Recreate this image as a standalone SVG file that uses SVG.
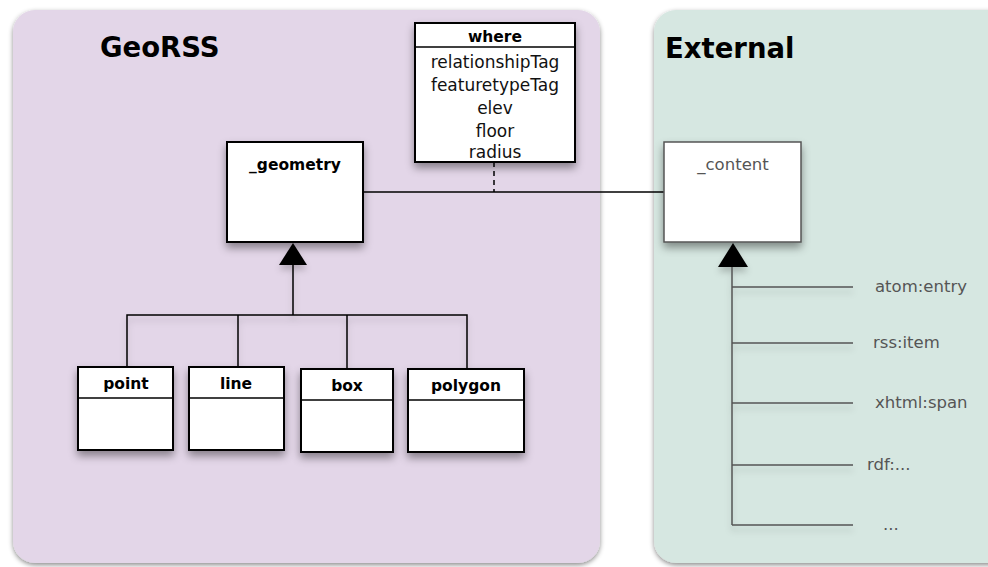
<svg xmlns="http://www.w3.org/2000/svg" width="988" height="567" viewBox="0 0 988 567">
<defs>
<filter id="ps" x="-5%" y="-5%" width="110%" height="110%"><feDropShadow dx="0" dy="2" stdDeviation="2.5" flood-color="#000" flood-opacity="0.45"/></filter>
<filter id="bs" x="-20%" y="-20%" width="140%" height="150%"><feDropShadow dx="0" dy="5" stdDeviation="4" flood-color="#000" flood-opacity="0.4"/></filter>
<filter id="ls" x="-10%" y="-50%" width="120%" height="300%"><feDropShadow dx="0" dy="5" stdDeviation="3" flood-color="#000" flood-opacity="0.2"/></filter>
</defs>
<style>
.title{font-family:"DejaVu Sans",sans-serif;font-weight:bold;font-size:27.5px;fill:#000}
.box{fill:#fff;stroke:#000;stroke-width:2}
.hdr{font-family:"DejaVu Sans",sans-serif;font-weight:bold;font-size:15.5px;fill:#000;text-anchor:middle}
.attr{font-family:"DejaVu Sans",sans-serif;font-size:17px;fill:#111;text-anchor:middle}
.lab{font-family:"DejaVu Sans",sans-serif;font-size:16.5px;fill:#555}
.ln{stroke:#000;stroke-width:1.5;fill:none}
.gl{stroke:#555;stroke-width:1.5;fill:none}
</style>
<rect width="988" height="567" fill="#fff"/>
<g id="georss-panel">
<rect x="13" y="10" width="587" height="553" rx="22" fill="#e3d6e8" filter="url(#ps)"/>
<text class="title" x="100" y="57">GeoRSS</text>
</g>
<g id="external-panel">
<rect x="654" y="10" width="360" height="553" rx="22" fill="#d6e7e1" filter="url(#ps)"/>
<text class="title" x="665" y="58">External</text>
</g>
<g id="connectors">
<line class="ln" x1="363" y1="192" x2="665" y2="192"/>
<line class="ln" x1="494" y1="162" x2="494" y2="192" stroke-dasharray="5,4"/>
<g filter="url(#ls)">
<polygon points="293,243 307,265 279,265" fill="#000"/>
<polyline class="ln" points="293,265 293,315"/>
<polyline class="ln" points="127,367 127,315 467,315 467,369"/>
<line class="ln" x1="238" y1="315" x2="238" y2="367"/>
<line class="ln" x1="347" y1="315" x2="347" y2="369"/>
</g>
<g filter="url(#ls)">
<polygon points="733,243 748,267 718,267" fill="#000"/>
<line class="gl" x1="732" y1="267" x2="732" y2="525"/>
<line class="gl" x1="732" y1="287" x2="853" y2="287"/>
<line class="gl" x1="732" y1="343" x2="853" y2="343"/>
<line class="gl" x1="732" y1="403" x2="853" y2="403"/>
<line class="gl" x1="732" y1="465" x2="853" y2="465"/>
<line class="gl" x1="732" y1="525" x2="853" y2="525"/>
</g>
</g>
<g id="where">
<rect class="box" x="415" y="23" width="160" height="139" filter="url(#bs)"/>
<line class="ln" x1="415" y1="47" x2="575" y2="47"/>
<text class="hdr" x="495" y="42">where</text>
<text class="attr" x="495" y="68">relationshipTag</text>
<text class="attr" x="495" y="91">featuretypeTag</text>
<text class="attr" x="495" y="114">elev</text>
<text class="attr" x="495" y="137">floor</text>
<text class="attr" x="495" y="158">radius</text>
</g>
<g id="geometry">
<rect class="box" x="227" y="142" width="136" height="100" filter="url(#bs)"/>
<text class="hdr" x="295" y="170">_geometry</text>
</g>
<g id="content">
<rect x="664" y="142" width="137" height="100" fill="#fff" stroke="#555" stroke-width="1.5" filter="url(#bs)"/>
<text class="lab" x="733" y="170" text-anchor="middle">_content</text>
</g>
<g id="point">
<rect class="box" x="78" y="367" width="95" height="83" filter="url(#bs)"/>
<line class="ln" x1="78" y1="398" x2="173" y2="398"/>
<text class="hdr" x="126" y="389">point</text>
</g>
<g id="line">
<rect class="box" x="189" y="367" width="95" height="83" filter="url(#bs)"/>
<line class="ln" x1="189" y1="398" x2="284" y2="398"/>
<text class="hdr" x="236" y="389">line</text>
</g>
<g id="box">
<rect class="box" x="301" y="369" width="92" height="83" filter="url(#bs)"/>
<line class="ln" x1="301" y1="400" x2="393" y2="400"/>
<text class="hdr" x="347" y="391">box</text>
</g>
<g id="polygon">
<rect class="box" x="408" y="369" width="116" height="83" filter="url(#bs)"/>
<line class="ln" x1="408" y1="400" x2="524" y2="400"/>
<text class="hdr" x="466" y="391">polygon</text>
</g>
<g id="labels">
<text class="lab" x="875" y="292">atom:entry</text>
<text class="lab" x="873" y="348">rss:item</text>
<text class="lab" x="875" y="408">xhtml:span</text>
<text class="lab" x="867" y="470">rdf:...</text>
<text class="lab" x="883" y="530">...</text>
</g>
</svg>
